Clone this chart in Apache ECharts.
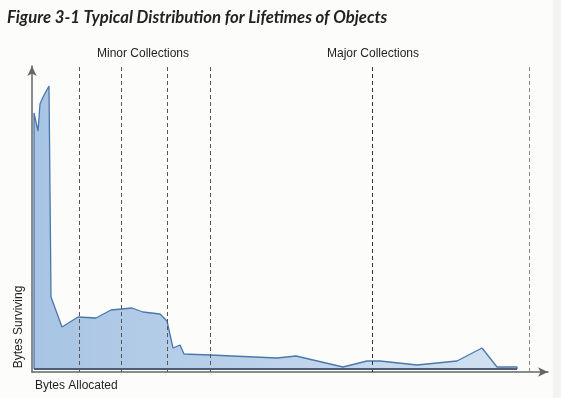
<!DOCTYPE html>
<html>
<head>
<meta charset="utf-8">
<script src="https://cdn.jsdelivr.net/npm/echarts@6/dist/echarts.min.js"></script>
<style>
  html, body { margin: 0; padding: 0; background: #fcfcfb; }
  #chart { width: 561px; height: 398px; }
</style>
</head>
<body>
<div id="chart"></div>
<script>
// bytes allocated (x) and bytes surviving (y), arbitrary units
const allocated = [2, 2, 4, 6, 8, 11, 17, 19, 30, 46, 64, 79, 100, 111, 128, 135, 141, 148, 152, 178, 245, 264, 311, 335, 348, 385, 425, 450, 465, 485, 485]
const surviving = [3, 259, 259, 241, 268, 275, 286, 75, 45, 55, 54, 62, 64, 60, 58, 51, 24, 27, 18, 17, 14, 16, 5, 11, 11, 7, 11, 24, 5, 5, 3]

// collection boundaries (dashed lines)
const minorCollections = [47, 89, 135, 178]
const majorCollections = [340, 497]

const titleText = 'Figure 3-1 Typical Distribution for Lifetimes of Objects'
const groupLabels = ['Minor Collections', 'Major Collections']
const xName = 'Bytes Allocated'
const yName = 'Bytes Surviving'

const chart = echarts.init(document.getElementById('chart'), null, { renderer: 'canvas' })

const dashed = (x, color) => ({
    xAxis: x,
    lineStyle: { color: color, type: [4, 3], width: 1 },
})

const labelFont = { fontFamily: 'Liberation Sans, Arial', fontSize: 12, color: '#1f1f1f', fontWeight: 'normal' }

chart.setOption({
    backgroundColor: '#fcfcfb',
    animation: false,
    title: [
        {
            text: titleText,
            left: 2, top: 4,
            textStyle: { fontFamily: 'Lato', fontSize: 16.7, fontWeight: 'bold', fontStyle: 'italic', color: '#222' },
        },
        { text: groupLabels[0], left: 92, top: 43, textStyle: labelFont },
        { text: groupLabels[1], left: 322, top: 43, textStyle: labelFont },
        { text: xName, left: 30, top: 375, textStyle: labelFont },
    ],
    graphic: [
        { type: 'rect', right: 0, top: 0, shape: { width: 8, height: 398 }, style: { fill: '#f3f3f1' }, z: -1 },
        {
            type: 'text', x: 19, y: 327, rotation: Math.PI / 2,
            style: { text: yName, font: '12px "Liberation Sans", Arial', fill: '#1f1f1f', align: 'center', verticalAlign: 'middle' },
        },
    ],
    grid: { left: 32, right: 13, top: 66, bottom: 26 },
    xAxis: {
        type: 'value', min: 0, max: 516,
        axisLine: { lineStyle: { color: '#666', width: 1.5 }, symbol: ['none', 'arrow'], symbolSize: [7, 10] },
        axisTick: { show: false }, axisLabel: { show: false }, splitLine: { show: false },
    },
    yAxis: {
        type: 'value', min: 0, max: 306,
        axisLine: { show: true, lineStyle: { color: '#666', width: 1.5 }, symbol: ['none', 'arrow'], symbolSize: [7, 10] },
        axisTick: { show: false }, axisLabel: { show: false }, splitLine: { show: false },
    },
    series: [{
        type: 'line',
        data: allocated.map((x, i) => [x, surviving[i]]),
        symbol: 'none',
        lineStyle: { color: '#4a78ad', width: 1.3 },
        areaStyle: {
            origin: 3,
            opacity: 1,
            color: new echarts.graphic.LinearGradient(0, 0, 1, 0, [
                { offset: 0, color: '#a8c4e4' },
                { offset: 0.4, color: '#b9d0ea' },
                { offset: 1, color: '#d2e2f1' },
            ]),
        },
        markLine: {
            silent: true, symbol: 'none', label: { show: false },
            data: [
                ...minorCollections.map(x => dashed(x, '#555')),
                dashed(majorCollections[0], '#333'),
                dashed(majorCollections[1], '#888'),
                [
                    { coord: [allocated[0], surviving[0]], lineStyle: { color: '#4d5f75', type: 'solid', width: 2 } },
                    { coord: [allocated[allocated.length - 1], surviving[0]] },
                ],
            ],
        },
        z: 3,
    }],
})
</script>
</body>
</html>
